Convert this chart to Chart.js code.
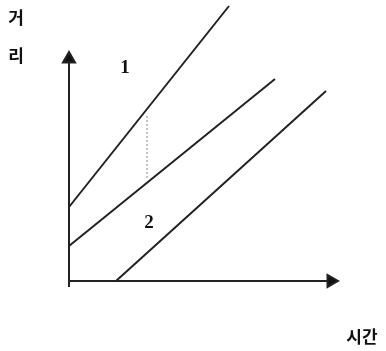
<!DOCTYPE html>
<html>
<head>
<meta charset="utf-8">
<script src="https://cdn.jsdelivr.net/npm/chart.js@4"></script>
<style>
  body { margin: 0; background: #fff; }
  canvas { display: block; }
</style>
</head>
<body>
<canvas id="myChart" width="386" height="351"></canvas>
<script>
/* dados do gráfico (tempo, distância) */
var linha1 = [[0, 74], [160, 275]];
var linha2 = [[0, 35], [206, 202]];
var linha3 = [[47, 0], [257, 190]];
var pontilhado = [[78, 103], [78, 166]];
var eixo_x = [[0, 0], [262, 0]];
var eixo_y = [[0, -6], [0, 222]];

var rotulos = [
  { texto: '1', x: 56, y: 213 },
  { texto: '2', x: 80, y: 58 }
];
var titulo_y = ['거', '리'];
var titulo_x = '시간';

function pontos (arr){
  return arr.map(function (p){ return { x: p[0], y: p[1] }; });
}

function serie (arr, extra){
  var d = {
    data: pontos(arr),
    borderColor: '#222',
    backgroundColor: '#111',
    borderWidth: 2,
    pointRadius: 0,
    showLine: true,
    tension: 0
  };
  for (var k in extra) d[k] = extra[k];
  return d;
}

// textos desenhados por cima
var textos = {
  id: 'textos',
  afterDraw: function (chart){
    var ctx = chart.ctx;
    var sx = chart.scales.x, sy = chart.scales.y;
    ctx.save();
    ctx.fillStyle = '#111';
    ctx.textAlign = 'center';
    ctx.textBaseline = 'middle';
    ctx.font = 'bold 19px "Liberation Serif", serif';
    rotulos.forEach(function (r){
      ctx.fillText(r.texto, sx.getPixelForValue(r.x), sy.getPixelForValue(r.y));
    });
    ctx.font = 'bold 17px "Noto Sans CJK KR"';
    ctx.fillText(titulo_y[0], 16, 18);
    ctx.fillText(titulo_y[1], 16, 56);
    ctx.fillText(titulo_x, 362, 337);
    ctx.restore();
  }
};

var ctx = document.getElementById('myChart').getContext('2d');
var myChart = new Chart(ctx, {
  type: 'scatter',
  data: {
    datasets: [
      serie(linha1),
      serie(linha2),
      serie(linha3),
      serie(pontilhado, { borderColor: '#888', borderWidth: 1, borderDash: [2, 2] }),
      serie(eixo_x, { pointStyle: 'triangle', pointRadius: [0, 7], pointRotation: 90, borderWidth: 2 }),
      serie(eixo_y, { pointStyle: 'triangle', pointRadius: [0, 7], borderWidth: 2 })
    ]
  },
  options: {
    responsive: false,
    animation: false,
    layout: { padding: 0, autoPadding: false },
    plugins: { legend: { display: false }, tooltip: { enabled: false } },
    scales: {
      x: { display: false, min: -69, max: 317 },
      y: { display: false, min: -70, max: 281 }
    }
  },
  plugins: [textos]
});
</script>
</body>
</html>
